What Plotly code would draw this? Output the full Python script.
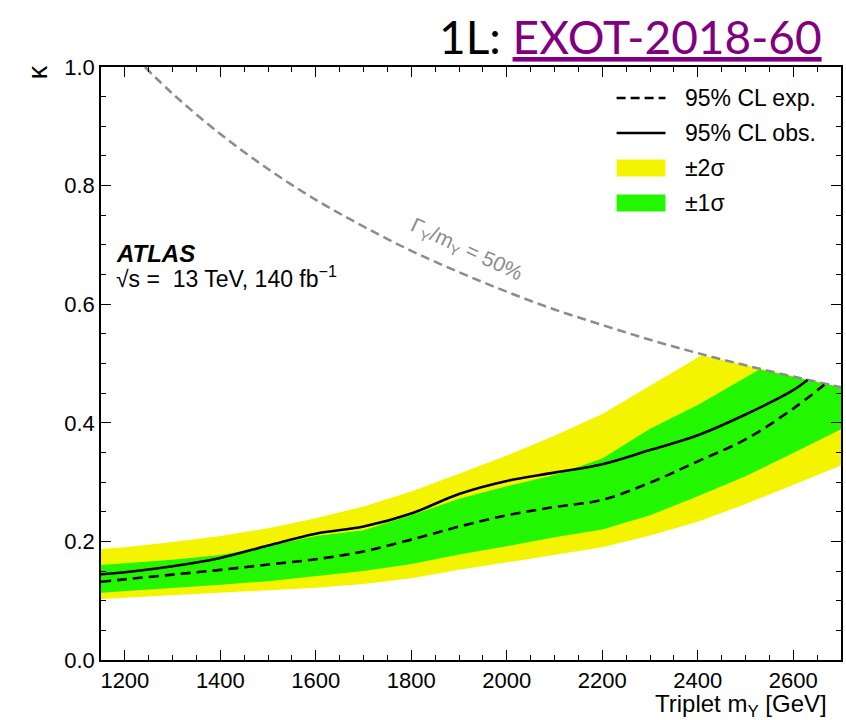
import plotly.graph_objects as go

# Mass points (GeV) for the lower band edges
mass = [1150, 1200, 1300, 1400, 1500, 1600, 1700, 1800, 1900,
        2000, 2100, 2200, 2300, 2400, 2500, 2600, 2700]

# +/-2 sigma band (upper edge runs until it reaches the width contour)
band2_hi_mass = [1150, 1200, 1300, 1400, 1500, 1600, 1700, 1800, 1900,
                 2000, 2100, 2200, 2300, 2408]
band2_hi = [0.187, 0.190, 0.199, 0.209, 0.222, 0.239, 0.259, 0.284, 0.314,
            0.345, 0.378, 0.415, 0.462, 0.514]
band2_lo = [0.103, 0.105, 0.109, 0.113, 0.118, 0.122, 0.128, 0.138, 0.152,
            0.165, 0.177, 0.190, 0.210, 0.233, 0.263, 0.296, 0.328]

# +/-1 sigma band
band1_hi_mass = [1150, 1200, 1300, 1400, 1500, 1600, 1700, 1800, 1900,
                 2000, 2100, 2200, 2300, 2400, 2529]
band1_hi = [0.160, 0.163, 0.169, 0.177, 0.192, 0.209, 0.219, 0.244, 0.272,
            0.293, 0.312, 0.340, 0.390, 0.430, 0.490]
band1_lo = [0.1135, 0.116, 0.121, 0.127, 0.133, 0.141, 0.150, 0.162, 0.178,
            0.192, 0.207, 0.220, 0.244, 0.276, 0.310, 0.349, 0.389]

# Expected limit
exp_mass = [1150, 1200, 1300, 1400, 1500, 1600, 1700, 1800, 1900,
            2000, 2100, 2200, 2300, 2400, 2500, 2600, 2665]
exp_kappa = [0.132, 0.136, 0.144, 0.152, 0.161, 0.170, 0.183, 0.203, 0.225,
             0.244, 0.258, 0.270, 0.299, 0.335, 0.372, 0.424, 0.464]

# Observed limit
obs_mass = [1150, 1200, 1300, 1400, 1500, 1600, 1700, 1800, 1900,
            2000, 2100, 2200, 2300, 2400, 2500, 2600, 2630]
obs_kappa = [0.1445, 0.148, 0.158, 0.172, 0.193, 0.213, 0.225, 0.247, 0.280,
             0.302, 0.316, 0.330, 0.354, 0.379, 0.414, 0.455, 0.472]

# Width contour Gamma/m = 50%
gamma_mass = [1242, 1300, 1400, 1500, 1600, 1700, 1800, 1900, 2000,
              2100, 2200, 2300, 2400, 2500, 2600, 2700]
gamma_kappa = [1.000, 0.955, 0.887, 0.828, 0.776, 0.731, 0.690, 0.654, 0.621,
               0.591, 0.565, 0.540, 0.5175, 0.497, 0.478, 0.460]

x_ticks = [1200, 1400, 1600, 1800, 2000, 2200, 2400, 2600]
y_ticks = [0.0, 0.2, 0.4, 0.6, 0.8, 1.0]

YELLOW = "#F4F400"
GREEN = "#22F700"
GREY = "#8C8C8C"
FONT = "Liberation Sans"

fig = go.Figure()


def band(hi_mass, hi, lo, color):
    """Filled band whose upper edge continues along the width contour."""
    end = hi_mass[-1]
    top_x = list(hi_mass) + [m for m in gamma_mass if m > end]
    top_y = list(hi) + [k for m, k in zip(gamma_mass, gamma_kappa) if m > end]
    xs = list(mass) + top_x[::-1]
    ys = list(lo) + top_y[::-1]
    fig.add_trace(go.Scatter(x=xs, y=ys, fill="toself", fillcolor=color,
                             line=dict(width=0), mode="lines",
                             hoverinfo="skip", showlegend=False))


band(band2_hi_mass, band2_hi, band2_lo, YELLOW)
band(band1_hi_mass, band1_hi, band1_lo, GREEN)

fig.add_trace(go.Scatter(x=gamma_mass, y=gamma_kappa, mode="lines",
                         line=dict(color=GREY, width=2.5, dash="9px,5px", shape="spline"),
                         showlegend=False))
fig.add_trace(go.Scatter(x=exp_mass, y=exp_kappa, mode="lines",
                         line=dict(color="black", width=2.6, dash="10px,6px", shape="spline"),
                         showlegend=False))
fig.add_trace(go.Scatter(x=obs_mass, y=obs_kappa, mode="lines",
                         line=dict(color="black", width=2.6, shape="spline"),
                         showlegend=False))

axis_common = dict(showline=True, linecolor="black", linewidth=1.5, mirror="allticks",
                   ticks="inside", ticklen=10, tickwidth=1.2, tickcolor="black",
                   showgrid=False, zeroline=False,
                   tickfont=dict(family=FONT, size=22, color="black"))

fig.update_xaxes(range=[1150, 2700], tickvals=x_ticks,
                 minor=dict(dtick=50, ticks="inside", ticklen=5, tickcolor="black", tickwidth=1),
                 **axis_common)
fig.update_yaxes(range=[0, 1], tickvals=y_ticks, tickformat=".1f",
                 minor=dict(dtick=0.05, ticks="inside", ticklen=5, tickcolor="black", tickwidth=1),
                 **axis_common)

# Hand-built legend (top right)
legend_rows = [
    ("95% CL exp.", "dash", 98),
    ("95% CL obs.", "solid", 133),
    ("±2σ", YELLOW, 168),
    ("±1σ", GREEN, 203),
]
W, H = 846, 720
shapes = []
annotations = []
for label, style, yc in legend_rows:
    if style in ("dash", "solid"):
        shapes.append(dict(type="line", xref="paper", yref="paper",
                           x0=(618 - 101) / 742, x1=(667 - 101) / 742,
                           y0=(660 - yc) / 593, y1=(660 - yc) / 593,
                           line=dict(color="black", width=2.6,
                                     dash="9px,5px" if style == "dash" else "solid")))
    else:
        shapes.append(dict(type="rect", xref="paper", yref="paper",
                           x0=(618 - 101) / 742, x1=(667 - 101) / 742,
                           y0=(660 - yc - 8.5) / 593, y1=(660 - yc + 8.5) / 593,
                           fillcolor=style, line=dict(width=0)))
    annotations.append(dict(text=label, xref="paper", yref="paper",
                            x=(685 - 101) / 742, y=(660 - yc) / 593,
                            xanchor="left", yanchor="middle", showarrow=False,
                            font=dict(family=FONT, size=23, color="black")))

annotations += [
    dict(text="<b><i>ATLAS</i></b>", xref="paper", yref="paper",
         x=(114 - 101) / 742, y=(660 - 253) / 593, xanchor="left", yanchor="middle",
         showarrow=False, font=dict(family=FONT, size=24, color="black")),
    dict(text="√s =  13 TeV, 140 fb<sup>−1</sup>", xref="paper", yref="paper",
         x=(114 - 101) / 742, y=(660 - 277) / 593, xanchor="left", yanchor="middle",
         showarrow=False, font=dict(family=FONT, size=23, color="black")),
    dict(text="Γ<sub>Y</sub>/m<sub>Y</sub> = 50%", x=1915, y=0.691,
         xref="x", yref="y", textangle=25, showarrow=False,
         font=dict(family=FONT, size=21, color=GREY)),
    dict(text="κ", xref="paper", yref="paper", x=(38 - 101) / 742, y=(660 - 72) / 593,
         textangle=-90, showarrow=False, xanchor="center", yanchor="middle",
         font=dict(family=FONT, size=27, color="black")),
    dict(text="Triplet m<sub>Y</sub> [GeV]", xref="paper", yref="paper",
         x=(830 - 101) / 742, y=(660 - 705.5) / 593, xanchor="right", yanchor="middle",
         borderpad=0, showarrow=False, font=dict(family=FONT, size=24, color="black")),
    dict(text="1L: <span style='color:#800080'><u>EXOT-2018-60</u></span>",
         xref="paper", yref="paper", x=(826 - 101) / 742, y=(660 - 36) / 593,
         xanchor="right", yanchor="middle", showarrow=False,
         font=dict(family="Lato", size=46, color="black")),
]

fig.update_layout(width=W, height=H, margin=dict(l=101, r=3, t=67, b=60),
                  plot_bgcolor="white", paper_bgcolor="white",
                  shapes=shapes, annotations=annotations, showlegend=False)

fig.write_html("out.html")
